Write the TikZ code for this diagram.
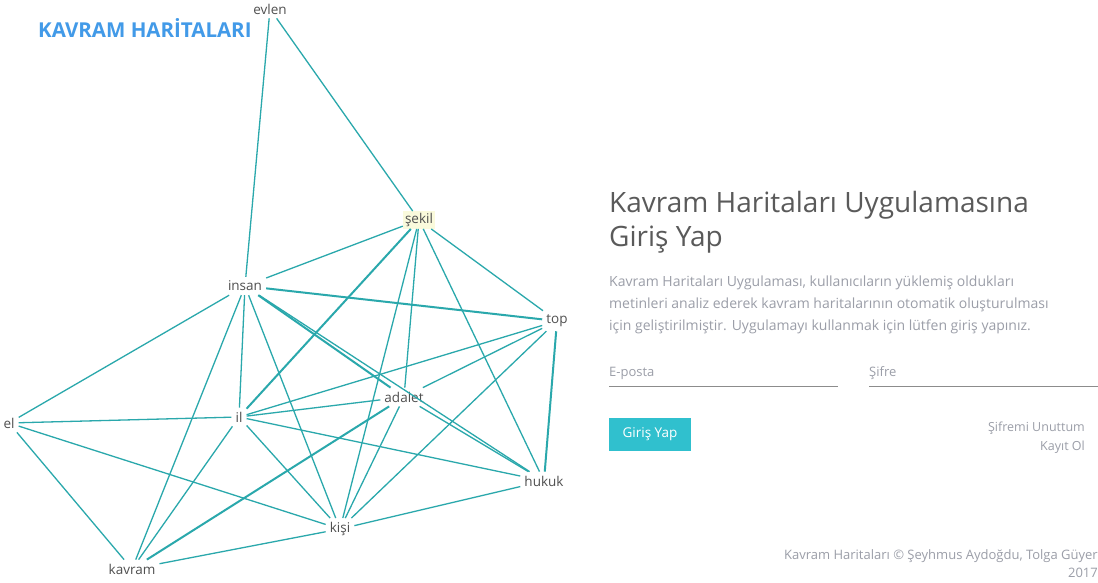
\documentclass[tikz,border=0pt]{standalone}
\usepackage{fontspec}
\setmainfont{Open Sans}
\usetikzlibrary{positioning}
\definecolor{edgeteal}{RGB}{42,168,172}
\definecolor{brandblue}{RGB}{66,154,232}
\definecolor{btncyan}{RGB}{48,192,206}
\definecolor{wordgray}{RGB}{80,80,80}
\definecolor{headgray}{RGB}{90,90,90}
\definecolor{softgray}{RGB}{155,158,168}
\definecolor{linegray}{RGB}{140,140,140}
\definecolor{tagyellow}{RGB}{250,250,220}

\tikzset{
  word/.style={text=wordgray, inner sep=4pt, font=\fontsize{13.5}{15}\selectfont},
  link/.style={edgeteal, line width=1.3pt},
  heavylink/.style={edgeteal, line width=2pt},
  softtext/.style={text=softgray, inner sep=0pt, font=\fontsize{14}{16}\selectfont},
  smalltext/.style={text=softgray, inner sep=0pt, font=\fontsize{12.5}{14}\selectfont}
}

\begin{document}
\begin{tikzpicture}[x=1pt, y=-1pt]
  \useasboundingbox (0,0) rectangle (1098,583);
  \fill[white] (0,0) rectangle (1098,583);

  % baslik
  \node[text=brandblue, inner sep=0pt, anchor=base west, font=\fontsize{20.5}{23}\selectfont\bfseries] (brand) at (38,38) {KAVRAM HARİTALARI};

  % kavram haritasi
  \node[word] (evlen) at (270,9) {evlen};
  \node[word, fill=tagyellow, inner sep=2pt] (sekil) at (419,220) {şekil};
  \node[word] (insan) at (245,286) {insan};
  \node[word] (top) at (557,321) {top};
  \node[word] (adalet) at (404,397) {adalet};
  \node[word] (il) at (239,417) {il};
  \node[word] (el) at (9,423) {el};
  \node[word] (hukuk) at (544,481) {hukuk};
  \node[word] (kisi) at (340,529) {kişi};
  \node[word] (kavram) at (132,569) {kavram};

  \draw[link] (evlen) -- (insan);
  \draw[link] (evlen) -- (sekil);
  \draw[link] (sekil) -- (insan);
  \draw[heavylink] (sekil) -- (il);
  \draw[link] (sekil) -- (top);
  \draw[link] (sekil) -- (hukuk);
  \draw[link] (sekil) -- (kisi);
  \draw[link] (sekil) -- (adalet);
  \draw[heavylink] (insan) -- (top);
  \draw[heavylink] (insan) -- (adalet);
  \draw[link] (insan) -- (hukuk);
  \draw[link] (insan) -- (el);
  \draw[link] (insan) -- (il);
  \draw[link] (insan) -- (kisi);
  \draw[link] (insan) -- (kavram);
  \draw[link] (top) -- (il);
  \draw[link] (top) -- (adalet);
  \draw[link] (top) -- (kisi);
  \draw[heavylink] (top) -- (hukuk);
  \draw[link] (adalet) -- (il);
  \draw[heavylink] (adalet) -- (kavram);
  \draw[link] (adalet) -- (kisi);
  \draw[link] (adalet) -- (hukuk);
  \draw[link] (il) -- (el);
  \draw[link] (il) -- (hukuk);
  \draw[link] (il) -- (kisi);
  \draw[link] (il) -- (kavram);
  \draw[link] (el) -- (kisi);
  \draw[link] (el) -- (kavram);
  \draw[link] (kavram) -- (kisi);
  \draw[link] (kisi) -- (hukuk);

  % giris paneli
  \node[text=headgray, inner sep=0pt, anchor=base west, font=\fontsize{28}{34}\selectfont] (title) at (609,212) {Kavram Haritaları Uygulamasına};
  \node[text=headgray, inner sep=0pt, anchor=base west, font=\fontsize{28}{34}\selectfont] (title2) at (609,246) {Giriş Yap};

  \node[softtext, anchor=base west] (info1) at (609,286) {Kavram Haritaları Uygulaması, kullanıcıların yüklemiş oldukları};
  \node[softtext, anchor=base west] (info2) at (609,308) {metinleri analiz ederek kavram haritalarının otomatik oluşturulması};
  \node[softtext, anchor=base west] (info3) at (609,330) {için geliştirilmiştir. Uygulamayı kullanmak için lütfen giriş yapınız.};

  \node[softtext, anchor=base west, font=\fontsize{13}{15}\selectfont] (mail) at (609,376) {E-posta};
  \node[softtext, anchor=base west, font=\fontsize{13}{15}\selectfont] (pass) at (869,376) {Şifre};
  \coordinate (mailA) at (609,386);
  \coordinate (mailB) at (838,386);
  \coordinate (passA) at (869,386);
  \coordinate (passB) at (1098,386);
  \draw[linegray, line width=1pt] (mailA) -- (mailB);
  \draw[linegray, line width=1pt] (passA) -- (passB);

  \node[fill=btncyan, text=white, minimum width=82pt, minimum height=33pt, inner sep=0pt, font=\fontsize{13.5}{15}\selectfont] (login) at (650,434.5) {Giriş Yap};

  \node[smalltext, anchor=base east] (forgot) at (1085,431) {Şifremi Unuttum};
  \node[smalltext, anchor=base east] (signup) at (1085,450) {Kayıt Ol};

  \node[smalltext, anchor=base east, font=\fontsize{13}{15}\selectfont] (credit) at (1098,559) {Kavram Haritaları © Şeyhmus Aydoğdu, Tolga Güyer};
  \node[smalltext, anchor=base east, font=\fontsize{13}{15}\selectfont] (year) at (1098,577) {2017};
\end{tikzpicture}
\end{document}
